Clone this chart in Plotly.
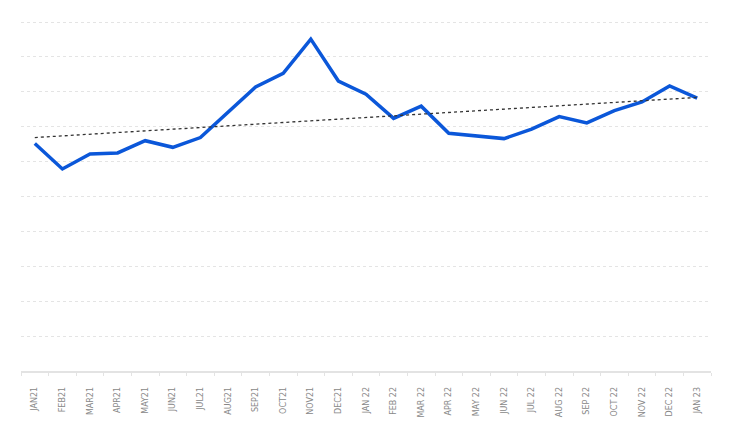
import plotly.graph_objects as go

months = ["JAN21", "FEB21", "MAR21", "APR21", "MAY21", "JUN21", "JUL21", "AUG21",
          "SEP21", "OCT21", "NOV21", "DEC21", "JAN 22", "FEB 22", "MAR 22", "APR 22",
          "MAY 22", "JUN 22", "JUL 22", "AUG 22", "SEP 22", "OCT 22", "NOV 22",
          "DEC 22", "JAN 23"]
values = [65.2, 57.9, 62.2, 62.5, 66.0, 64.1, 66.9, 74.3, 81.4, 85.3, 95.1, 83.1,
          79.3, 72.4, 75.9, 68.1, 67.3, 66.6, 69.3, 72.9, 71.1, 74.6, 77.1, 81.7, 78.2]
trend_x = ["JAN21", "JAN 23"]
trend_y = [66.9, 78.4]

fig = go.Figure()
fig.add_trace(go.Scatter(x=months, y=values, mode="lines",
                         line=dict(color="#0b57d9", width=3.5),
                         hoverinfo="skip"))
fig.add_trace(go.Scatter(x=trend_x, y=trend_y, mode="lines",
                         line=dict(color="#333333", width=1.3, dash="dot"),
                         hoverinfo="skip"))

# page body has an 8px default margin, so the figure is offset by 8px
fig.update_layout(
    width=724, height=435,
    margin=dict(l=13, r=21, t=13, b=72),
    paper_bgcolor="white", plot_bgcolor="white",
    showlegend=False,
    font=dict(family="DejaVu Sans", color="#888888", size=8),
)
fig.update_xaxes(
    type="category", categoryorder="array", categoryarray=months,
    range=[-0.5, len(months) - 0.5],
    tickangle=-90, tickson="boundaries", ticks="outside", ticklen=3,
    tickcolor="#e3e3e3", showline=True, linecolor="#e3e3e3", linewidth=1.5,
    showgrid=False, ticklabelstandoff=11,
    tickfont=dict(family="DejaVu Sans", size=8, color="#888888"),
)
fig.update_yaxes(
    range=[0, 100.3], dtick=10, showticklabels=False, zeroline=False,
    showgrid=True, gridcolor="#e4e4e4", griddash="dot", gridwidth=1,
)

fig.write_html("out.html")
